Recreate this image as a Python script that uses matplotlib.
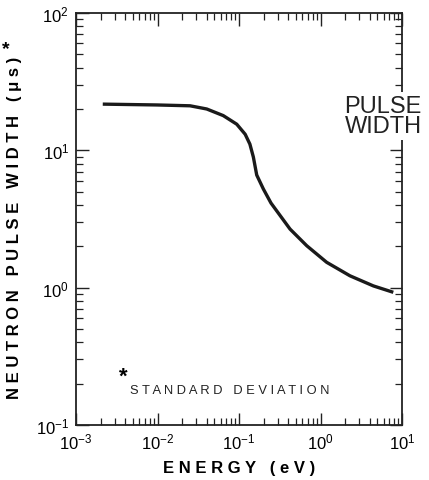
import matplotlib
matplotlib.use('Agg')
import matplotlib.pyplot as plt

# valores (energia em eV, largura em microssegundos)
energia = [0.00213, 0.00977, 0.0251, 0.0402, 0.0641, 0.0938, 0.119, 0.136,
           0.150, 0.165, 0.199, 0.247, 0.423, 0.678, 1.19, 2.30, 4.45, 7.82]
largura = [21.7, 21.4, 21.1, 20.0, 17.9, 15.5, 13.1, 11.1,
           8.94, 6.61, 5.23, 4.13, 2.67, 2.02, 1.53, 1.22, 1.03, 0.925]

xticks = [1e-3, 1e-2, 1e-1, 1e0, 1e1]
xtick_labels = ['$10^{-3}$', '$10^{-2}$', '$10^{-1}$', '$10^{0}$', '$10^{1}$']
yticks = [1e-1, 1e0, 1e1, 1e2]
ytick_labels = ['$10^{-1}$', '$10^{0}$', '$10^{1}$', '$10^{2}$']

plt.rcParams['font.family'] = ['Liberation Sans', 'DejaVu Sans']
plt.rcParams['mathtext.fontset'] = 'custom'
plt.rcParams['mathtext.rm'] = 'Liberation Sans'
plt.rcParams['mathtext.it'] = 'Liberation Sans'

W, H = 429, 481
fig = plt.figure(figsize=(W / 100, H / 100), dpi=100)
ax = fig.add_axes([76 / W, 1 - 426 / H, 326 / W, 412 / H])

ax.plot(energia, largura, color='#1a1a1a', linewidth=2.4,
        solid_joinstyle='round', solid_capstyle='butt')

ax.set_xscale('log')
ax.set_yscale('log')
ax.set_xlim(1e-3, 1e1)
ax.set_ylim(1e-1, 1e2)
ax.set_xticks(xticks)
ax.set_xticklabels(xtick_labels)
ax.set_yticks(yticks)
ax.set_yticklabels(ytick_labels)

ax.tick_params(which='both', direction='in', top=True, right=True, color='#222222')
ax.tick_params(which='major', length=9, width=1.0, labelsize=12, pad=5)
ax.tick_params(which='minor', length=5, width=0.9)
for s in ax.spines.values():
    s.set_linewidth(1.3)
    s.set_color('#222222')

ax.set_xlabel('E N E R G Y   ( e V )', fontsize=12, fontweight='bold', labelpad=6)
fig.text(15 / W, 1 - 228 / H, 'N E U T R O N   P U L S E   W I D T H   ( μ s )',
         fontsize=12, fontweight='bold', rotation=90, ha='center', va='center')
fig.text(6 / W, 1 - 50 / H, '*', fontsize=14, fontweight='bold',
         ha='center', va='center')

ax.text(0.942, 0.75, 'PULSE\nWIDTH', transform=ax.transAxes, fontsize=17,
        ha='center', va='center', linespacing=0.85, color='#222222',
        bbox=dict(facecolor='white', edgecolor='none', pad=2), zorder=5)

ax.text(0.145, 0.118, '*', transform=ax.transAxes, fontsize=16, fontweight='bold',
        ha='center', va='center')
ax.text(0.165, 0.085, 'S T A N D A R D   D E V I A T I O N', transform=ax.transAxes,
        fontsize=9.3, ha='left', va='center', color='#222222')

fig.savefig('out.png', dpi=100)
